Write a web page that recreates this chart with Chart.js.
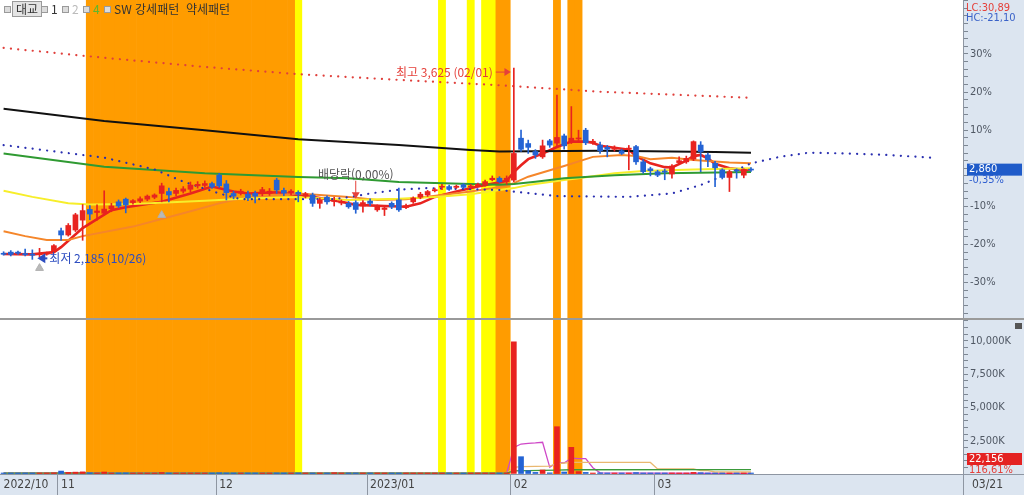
<!DOCTYPE html>
<html lang="ko">
<head>
<meta charset="utf-8">
<title>대교 일봉</title>
<script src="https://cdn.jsdelivr.net/npm/chart.js@4.4.1/dist/chart.umd.min.js"></script>
<style>
  html, body { margin: 0; padding: 0; background: #fff; }
  #wrap { position: relative; width: 1024px; height: 495px; overflow: hidden; }
  #price { position: absolute; left: 0; top: 0; }
  #vol { position: absolute; left: 0; top: 319px; }
  #legend { position: absolute; left: 0; top: 0; width: 300px; height: 18px; z-index: 2;
            font: 12px "Noto Sans CJK KR", "Noto Sans", sans-serif; color: #333; }
  #legend span { position: absolute; top: 2px; line-height: 14px; }
  #legend .sq { top: 6px; width: 5px; height: 5px; border: 1px solid #9a9a9a; background: #dcdcdc; }
  #legend .box { top: 1px; padding: 0 3px; border: 1px solid #9a9a9a; background: #e4e4e4; }
</style>
</head>
<body>
<div id="wrap">
  <canvas id="price" width="1024" height="319"></canvas>
  <canvas id="vol" width="1024" height="176"></canvas>
  <div id="legend">
    <span class="sq" style="left:4px"></span>
    <span class="box" style="left:12px">대교</span>
    <span class="sq" style="left:41px"></span>
    <span style="left:51px">1</span>
    <span class="sq" style="left:62px"></span>
    <span style="left:72px;color:#bbb">2</span>
    <span class="sq" style="left:83px"></span>
    <span style="left:93px;color:#5cb82e">4</span>
    <span class="sq" style="left:104px"></span>
    <span style="left:114px">SW 강세패턴</span>
    <span style="left:186px">약세패턴</span>
  </div>
</div>
<script>
// 거래일 (2022/10/20 ~ 2023/03/21)
const octDays = [20,21,24,25,26,27,28,31];
const novDays = [1,2,3,4,7,8,9,10,11,14,15,16,17,18,21,22,23,24,25,28,29,30];
const decDays = [1,2,5,6,7,8,9,12,13,14,15,16,19,20,21,22,23,26,27,28,29];
const janDays = [2,3,4,5,6,9,10,11,12,13,16,17,18,19,20,25,26,27,30,31];
const febDays = [1,2,3,6,7,8,9,10,13,14,15,16,17,20,21,22,23,24,27,28];
const marDays = [2,3,6,7,8,9,10,13,14,15,16,17,20,21];
const futureSlots = 29;
const monthNames = ['2022/10','11','12','2023/01','02','03'];

// 기준가 대비 등락률(%)
const opens = [-22.3,-22.0,-22.0,-22.4,-22.5,-22.6,-22.4,-21.8,-16.4,-17.5,
  -16.2,-13.6,-10.8,-11.6,-11.8,-10.6,-8.8,-8.1,-9.0,-8.6,
  -8.1,-7.6,-6.6,-6.1,-6.6,-6.0,-5.5,-4.6,-4.5,-4.0,
  -1.8,-4.1,-6.6,-6.5,-6.8,-6.6,-6.5,-6.6,-3.1,-5.8,
  -6.5,-6.3,-7.3,-7.0,-9.2,-7.6,-8.7,-9.1,-9.2,-9.0,
  -9.9,-8.6,-10.9,-10.8,-9.2,-8.3,-10.3,-8.8,-7.6,-7.0,
  -5.9,-4.9,-4.8,-5.0,-4.3,-4.8,-4.6,-4.4,-3.0,-2.6,
  -3.5,-3.1,7.9,6.5,4.4,3.0,7.2,6.6,8.5,7.0,
  7.7,10.0,6.7,6.1,5.5,5.0,4.6,5.0,5.7,1.7,
  0.0,-0.9,-0.7,-1.5,1.5,1.7,2.4,6.1,3.5,1.3,
  -0.4,-2.4,-0.4,-1.8,-0.2];
const highs = [-21.9,-21.6,-21.7,-21.2,-21.4,-21.0,-22.0,-20.0,-15.7,-14.5,
  -11.8,-9.5,-9.8,-9.6,-5.9,-9.2,-8.3,-7.8,-8.2,-7.5,
  -7.0,-6.7,-3.9,-5.2,-5.2,-4.8,-3.6,-3.5,-3.3,-3.6,
  -1.3,-3.2,-6.0,-5.5,-6.0,-6.0,-5.0,-5.3,-2.6,-5.2,
  -5.6,-5.9,-6.3,-6.5,-7.8,-7.2,-7.6,-8.3,-8.7,-8.5,
  -8.5,-8.0,-9.6,-9.9,-8.8,-5.2,-9.4,-7.5,-6.3,-5.8,
  -5.2,-4.2,-4.4,-4.4,-4.0,-4.2,-3.9,-3.1,-2.0,-2.2,
  -2.0,26.3,10.0,7.4,4.9,7.4,7.6,19.2,9.0,16.2,
  10.0,10.5,7.6,6.9,6.0,5.9,5.0,6.0,6.0,2.3,
  0.3,-0.5,-0.2,1.0,3.0,3.2,7.2,7.0,4.0,1.8,
  0.0,-0.5,0.0,0.0,0.2];
const lows = [-22.8,-23.0,-22.6,-23.0,-23.9,-23.2,-22.8,-22.0,-18.9,-17.8,
  -16.6,-18.9,-13.5,-13.6,-12.2,-11.4,-10.3,-11.7,-9.4,-9.0,
  -8.5,-8.0,-8.8,-8.8,-7.2,-6.5,-6.2,-5.2,-5.0,-5.3,
  -5.0,-8.3,-8.0,-7.0,-8.5,-9.1,-7.2,-7.1,-6.6,-7.2,
  -7.0,-8.8,-7.8,-10.0,-10.5,-9.4,-9.9,-9.6,-10.5,-11.8,
  -11.5,-9.8,-11.3,-12.4,-10.6,-11.3,-10.6,-9.2,-8.0,-7.4,
  -6.2,-5.6,-5.8,-5.3,-5.3,-5.2,-4.9,-4.7,-3.3,-3.8,
  -4.2,-3.5,4.4,3.9,2.6,2.6,5.5,5.7,5.0,6.5,
  7.2,6.2,6.3,3.9,3.0,4.5,3.6,-0.4,1.0,-1.3,
  -2.0,-2.2,-3.0,-2.6,1.0,1.3,2.0,-0.9,0.4,-4.8,
  -2.8,-6.1,-2.6,-2.5,-0.8];
const closes = [-22.5,-22.6,-22.3,-22.5,-22.8,-22.4,-22.3,-20.3,-17.5,-15.0,
  -12.2,-11.1,-12.0,-11.2,-10.7,-9.9,-9.9,-9.6,-8.5,-8.0,
  -7.3,-7.0,-4.6,-7.0,-5.8,-5.4,-4.4,-4.2,-4.0,-4.9,
  -4.6,-6.4,-7.3,-6.0,-7.8,-7.3,-5.6,-6.0,-5.7,-6.5,
  -6.0,-6.8,-6.7,-9.2,-8.3,-8.8,-8.4,-8.7,-10.1,-10.8,
  -9.0,-9.2,-10.1,-10.4,-10.1,-10.9,-9.8,-7.8,-6.8,-6.1,
  -5.6,-4.7,-5.5,-4.7,-5.0,-4.6,-4.2,-3.5,-2.6,-3.5,
  -2.6,3.9,5.0,5.5,3.5,5.9,6.1,8.1,5.9,7.9,
  7.9,6.7,7.1,4.6,5.0,5.3,3.9,5.3,1.7,-0.9,
  -0.6,-1.8,-1.0,0.6,2.0,2.6,7.0,4.4,2.2,0.0,
  -2.4,-0.9,-0.6,-0.3,-0.35];

// 거래량 (천주)
const volumes = [60,45,40,55,70,50,40,90,
  220,120,140,160,90,80,150,70,60,80,50,45,
  40,45,110,60,40,45,70,40,35,50,
  90,70,50,40,45,40,50,45,80,40,
  35,40,45,60,40,35,100,30,35,60,
  45,40,35,30,40,70,35,45,50,40,
  35,30,30,25,30,25,30,40,45,50,
  80,9930,1300,250,120,300,90,3550,150,2000,
  180,120,60,90,50,40,40,60,110,70,
  50,40,40,80,40,50,120,100,60,50,
  50,60,30,19,22];

// 이동평균선 / 채널 ([인덱스, 값])
const ma5Pts = [[0,-22.5],[4,-22.6],[7,-22.0],[8,-20.7],[11,-15.7],[15,-11.0],[17,-10.2],[22,-8.8],[26,-6.6],[29,-4.8],
  [32,-6.1],[34,-6.6],[38,-6.3],[43,-7.5],[47,-8.8],[49,-9.6],[53,-9.9],[56,-10.1],[58,-9.2],[60,-7.5],[63,-6.1],
  [66,-4.8],[69,-3.7],[70,-3.3],[71,-1.0],[72,0.8],[73,2.4],[75,3.9],[77,5.6],[79,7.0],[81,7.0],[82,6.7],[83,5.9],
  [85,5.4],[87,4.9],[88,3.2],[90,1.3],[92,0.3],[93,0.2],[95,2.0],[96,3.2],[97,3.5],[98,2.6],[99,1.2],[101,0.0],
  [103,-0.4],[104,-0.3]];
const ma20Pts = [[0,-16.5],[3,-17.8],[6,-18.8],[9,-18.8],[11,-17.8],[18,-15.3],[25,-11.8],[30,-9.2],[34,-7.5],[41,-6.6],
  [48,-7.5],[52,-8.3],[56,-8.1],[61,-7.0],[65,-6.1],[68,-5.2],[70,-4.5],[71,-3.9],[73,-2.2],[78,0.6],[82,3.0],[86,3.5],
  [88,3.2],[90,2.4],[93,2.8],[96,2.2],[101,1.5],[104,1.3]];
const ma60Pts = [[0,-5.9],[4,-7.5],[9,-9.2],[12,-9.5],[18,-9.4],[28,-8.5],[34,-7.9],[41,-7.5],[48,-8.3],[55,-8.0],
  [60,-7.5],[65,-6.8],[69,-5.7],[71,-5.2],[73,-4.4],[78,-3.1],[80,-2.6],[85,-1.3],[89,-0.7],[96,-0.3],[104,0.0]];
const ma120Pts = [[0,3.9],[14,0.4],[28,-1.3],[41,-2.3],[48,-2.6],[55,-3.6],[65,-4.1],[69,-4.3],[71,-4.1],[74,-3.5],
  [78,-2.6],[85,-1.8],[92,-1.3],[104,-1.0]];
const ma240Pts = [[0,15.6],[14,12.4],[28,10.0],[41,7.6],[55,6.1],[65,4.8],[69,4.4],[83,4.6],[90,4.5],[99,4.3],[104,4.1]];
const upperPts = [[0,31.6],[14,29.0],[28,26.6],[41,24.7],[55,23.2],[68,21.9],[83,20.1],[104,18.5]];
const lowerPts = [[0,6.1],[14,2.8],[21,-0.3],[25,-3.5],[30,-6.6],[33,-8.1],[46,-8.1],[49,-7.3],[51,-6.6],[55,-5.6],
  [59,-5.2],[65,-5.5],[69,-5.7],[71,-6.1],[77,-7.3],[87,-7.5],[93,-6.6],[97,-4.4],[101,-1.3],[104,1.3],
  [108,3.0],[112,4.1],[117,3.9],[123,3.5],[129,2.8]];
const signalPts = [[5,-26.2],[22,-12.3]];

const volMa5Pts = [[0,90],[10,110],[20,90],[35,70],[50,80],[60,60],[70,50],[71,2000],[72,2250],[73,2300],[74,2330],
  [75,2380],[76,500],[77,860],[78,830],[79,1190],[80,1160],[81,1150],[82,470],[83,90],[90,60],[104,40]];
const volMa20Pts = [[0,70],[70,60],[71,500],[72,560],[76,590],[77,770],[79,870],[90,870],[91,380],[96,380],
  [97,250],[98,250],[99,150],[104,150]];
const volMa60Pts = [[0,60],[70,60],[71,230],[77,290],[79,320],[104,330]];

// SW 강세패턴 구간 [시작, 끝]
const orangeBands = [[12,40],[69,70],[77,77],[79,80]];
const yellowBands = [[41,41],[61,61],[65,65],[67,68]];

const pctLabels = [-30,-20,-10,10,20,30];
const volLabels = [2500,5000,7500,10000];

const hiIndex = 71, loIndex = 4, divIndex = 49;

// ---- 테이블 구성 ----
const months = [[2022,10,octDays],[2022,11,novDays],[2022,12,decDays],[2023,1,janDays],[2023,2,febDays],[2023,3,marDays]];
const labels = [];
const monthStarts = [];
months.forEach(([yy, mm, days]) => {
  monthStarts.push(labels.length);
  days.forEach(d => labels.push(`${yy}/${String(mm).padStart(2,'0')}/${String(d).padStart(2,'0')}`));
});
for (let i = 0; i < futureSlots; i++) labels.push('');
const N = labels.length;

function fromPts(pts) {
  const arr = new Array(N).fill(null);
  pts.forEach(([i, v]) => { arr[i] = v; });
  return arr;
}
function fromBands(bands) {
  const arr = new Array(N).fill(null);
  bands.forEach(([a, b]) => { for (let i = a; i <= b; i++) arr[i] = 1; });
  return arr;
}

const UP = '#e8231f', DOWN = '#2463d4';
const candleColors = closes.map((c, i) => c >= opens[i] ? UP : DOWN);
const narrow = '"Liberation Sans Narrow", "Arial Narrow", "DejaVu Sans Condensed", Arial, sans-serif';
const kr = '"Noto Sans CJK KR", "Noto Sans", sans-serif';
const panelBg = '#dce5f0';
const lineGray = '#8e96a2';

function bandSets() {
  return [
    { type: 'bar', data: fromBands(orangeBands), yAxisID: 'band', backgroundColor: '#ff9c00',
      barPercentage: 1, categoryPercentage: 1, grouped: false, order: 30 },
    { type: 'bar', data: fromBands(yellowBands), yAxisID: 'band', backgroundColor: '#ffff00',
      barPercentage: 1, categoryPercentage: 1, grouped: false, order: 30 }
  ];
}
function lineSet(pts, color, width, axis, dash) {
  return { type: 'line', data: fromPts(pts), yAxisID: axis, borderColor: color, borderWidth: width,
    pointRadius: 0, spanGaps: true, tension: 0, order: 10,
    borderDash: dash || [], borderCapStyle: dash ? 'round' : 'butt' };
}

function rightAxis(min, max, tickValues, labelFn) {
  return {
    position: 'right', min, max,
    afterBuildTicks(s) { s.ticks = tickValues.map(v => ({ value: v })); },
    afterFit(s) { s.width = 61; s.paddingTop = 0; s.paddingBottom = 0; },
    ticks: { callback: labelFn, color: '#505864', font: { family: narrow, size: 11 }, padding: 2, autoSkip: false },
    grid: { drawOnChartArea: false, tickLength: 5, color: '#7d8793' },
    border: { color: lineGray }
  };
}

const pctTicks = [];
for (let v = -38; v <= 44; v += 2) pctTicks.push(v);
const volTicks = [];
for (let v = 0; v <= 11500; v += 500) volTicks.push(v);

// ---- 가격 차트 ----
const pricePanel = {
  id: 'pricePanel',
  beforeDraw(chart) {
    const { ctx, chartArea: a, width, height } = chart;
    ctx.save();
    ctx.fillStyle = '#fff';
    ctx.fillRect(0, 0, width, height);
    ctx.fillStyle = panelBg;
    ctx.fillRect(a.right, 0, width - a.right, height);
    ctx.restore();
  },
  afterDatasetsDraw(chart) {
    const { ctx, scales: { x, y } } = chart;
    ctx.save();
    ctx.font = '12px ' + kr;
    ctx.textBaseline = 'middle';

    // 최고
    let px = x.getPixelForValue(hiIndex), py = y.getPixelForValue(highs[hiIndex]) + 4;
    ctx.fillStyle = ctx.strokeStyle = '#e5403a';
    ctx.textAlign = 'right';
    ctx.fillText('최고 3,625 (02/01)', px - 21, py);
    arrow(ctx, px - 18, py, px - 3, py, 4);

    // 최저
    px = x.getPixelForValue(loIndex); py = y.getPixelForValue(lows[loIndex]);
    ctx.fillStyle = ctx.strokeStyle = '#2c4cc0';
    ctx.textAlign = 'left';
    ctx.fillText('최저 2,185 (10/26)', px + 17, py - 1);
    ctx.lineWidth = 2;
    arrow(ctx, px + 15, py - 1, px + 5, py - 1, 5);

    // 배당락
    px = x.getPixelForValue(divIndex); py = y.getPixelForValue(highs[divIndex]);
    ctx.fillStyle = '#555';
    ctx.textAlign = 'center';
    ctx.fillText('배당락(0,00%)', px, py - 26);
    ctx.fillStyle = ctx.strokeStyle = '#e5403a';
    ctx.lineWidth = 1;
    arrow(ctx, px, py - 20, px, py - 2, 4);
    ctx.restore();
  },
  afterDraw(chart) {
    const { ctx, chartArea: a, width, scales: { y } } = chart;
    ctx.save();
    ctx.font = '11px ' + narrow;
    ctx.textAlign = 'left';
    ctx.textBaseline = 'middle';
    ctx.fillStyle = '#e5403a';
    ctx.fillText('LC:30,89', a.right + 3, 8);
    ctx.fillStyle = '#3a62c8';
    ctx.fillText('HC:-21,10', a.right + 3, 18);
    const ty = y.getPixelForValue(closes[closes.length - 1]);
    ctx.fillStyle = '#1f5bc9';
    ctx.fillRect(a.right + 4, ty - 6, 55, 12);
    ctx.fillStyle = '#fff';
    ctx.fillText('2,860', a.right + 6, ty);
    ctx.fillStyle = '#2f5fd0';
    ctx.fillText('-0,35%', a.right + 6, ty + 11);
    ctx.strokeStyle = '#9a9a9a';
    ctx.lineWidth = 1;
    ctx.beginPath();
    ctx.moveTo(0, a.bottom - 0.5); ctx.lineTo(width, a.bottom - 0.5);
    ctx.stroke();
    ctx.restore();
  }
};

function arrow(ctx, x1, y1, x2, y2, head) {
  const ang = Math.atan2(y2 - y1, x2 - x1);
  ctx.beginPath();
  ctx.moveTo(x1, y1);
  ctx.lineTo(x2 - Math.cos(ang) * head, y2 - Math.sin(ang) * head);
  ctx.stroke();
  ctx.beginPath();
  ctx.moveTo(x2, y2);
  ctx.lineTo(x2 - Math.cos(ang) * head * 1.6 - Math.sin(ang) * head, y2 - Math.sin(ang) * head * 1.6 + Math.cos(ang) * head);
  ctx.lineTo(x2 - Math.cos(ang) * head * 1.6 + Math.sin(ang) * head, y2 - Math.sin(ang) * head * 1.6 - Math.cos(ang) * head);
  ctx.closePath();
  ctx.fill();
}

new Chart(document.getElementById('price'), {
  type: 'bar',
  data: {
    labels,
    datasets: [
      ...bandSets(),
      lineSet(upperPts, '#e0403c', 2.2, 'y', [0.1, 7.2]),
      lineSet(lowerPts, '#2a2fb0', 2.2, 'y', [0.1, 7.2]),
      lineSet(ma240Pts, '#111111', 2, 'y'),
      lineSet(ma120Pts, '#2f9a32', 2, 'y'),
      lineSet(ma60Pts, '#f7ee2a', 2, 'y'),
      lineSet(ma20Pts, '#f5862a', 2, 'y'),
      lineSet(ma5Pts, '#e8231f', 2.6, 'y'),
      { type: 'bar', data: lows.map((l, i) => [l, highs[i]]), yAxisID: 'y', backgroundColor: candleColors,
        barThickness: 1, grouped: false, order: 3 },
      { type: 'bar', data: opens.map((o, i) => [o, closes[i]]), yAxisID: 'y', backgroundColor: candleColors,
        barThickness: 5, minBarLength: 1, grouped: false, order: 2 },
      { type: 'line', data: fromPts(signalPts), yAxisID: 'y', showLine: false, pointStyle: 'triangle',
        pointRadius: 4.5, pointBackgroundColor: '#b9b9b9', pointBorderColor: '#b0b0b0', order: 1 }
    ]
  },
  options: {
    responsive: false, animation: false,
    layout: { padding: 0, autoPadding: false },
    plugins: { legend: { display: false }, tooltip: { enabled: false } },
    scales: {
      x: { display: false, offset: true },
      y: rightAxis(-39.55, 44.17, pctTicks, v => pctLabels.includes(v) ? v + '%' : ''),
      band: { display: false, min: 0, max: 1 }
    }
  },
  plugins: [pricePanel]
});

// ---- 거래량 차트 ----
const volPanel = {
  id: 'volPanel',
  beforeDraw(chart) {
    const { ctx, chartArea: a, width, height } = chart;
    ctx.save();
    ctx.fillStyle = '#fff';
    ctx.fillRect(0, 0, width, height);
    ctx.fillStyle = panelBg;
    ctx.fillRect(a.right, 0, width - a.right, height);
    ctx.fillRect(0, a.bottom, width, height - a.bottom);
    ctx.restore();
  },
  afterDraw(chart) {
    const { ctx, chartArea: a, width, height, scales: { x } } = chart;
    const slot = x.getPixelForValue(1) - x.getPixelForValue(0);
    ctx.save();
    ctx.strokeStyle = lineGray;
    ctx.lineWidth = 1;
    ctx.beginPath();
    ctx.moveTo(0, a.bottom + 0.5); ctx.lineTo(width, a.bottom + 0.5);
    ctx.moveTo(a.right + 0.5, a.bottom); ctx.lineTo(a.right + 0.5, height);
    monthStarts.slice(1).forEach(i => {
      const mx = Math.round(x.getPixelForValue(i) - slot / 2) + 0.5;
      ctx.moveTo(mx, a.bottom); ctx.lineTo(mx, height);
    });
    ctx.stroke();
    ctx.strokeStyle = '#9a9a9a';
    ctx.beginPath();
    ctx.moveTo(0, 0.5); ctx.lineTo(width, 0.5);
    ctx.stroke();

    ctx.font = '11px ' + narrow;
    ctx.textAlign = 'left';
    ctx.textBaseline = 'middle';
    ctx.fillStyle = '#e42222';
    ctx.fillRect(a.right + 4, 134, 55, 12);
    ctx.fillStyle = '#fff';
    ctx.fillText('22,156', a.right + 6, 140);
    ctx.fillStyle = '#e5403a';
    ctx.fillText('116,61%', a.right + 6, 151);
    ctx.fillStyle = '#555';
    ctx.fillRect(width - 9, 4, 7, 6);
    ctx.font = '12px ' + narrow;
    ctx.fillStyle = '#444';
    ctx.fillText('03/21', a.right + 9, 166);
    ctx.restore();
  }
};

new Chart(document.getElementById('vol'), {
  type: 'bar',
  data: {
    labels,
    datasets: [
      ...bandSets(),
      { type: 'bar', data: volumes, yAxisID: 'yv', backgroundColor: candleColors,
        barThickness: 5, minBarLength: 1, grouped: false, order: 5 },
      lineSet(volMa60Pts, '#3a9a3a', 1.3, 'yv'),
      lineSet(volMa20Pts, '#e9b870', 1.3, 'yv'),
      lineSet(volMa5Pts, '#cf48c8', 1.3, 'yv')
    ]
  },
  options: {
    responsive: false, animation: false,
    layout: { padding: { top: 1 }, autoPadding: false },
    plugins: { legend: { display: false }, tooltip: { enabled: false } },
    scales: {
      x: {
        offset: true,
        grid: { display: false, drawTicks: false },
        border: { display: false },
        afterFit(s) { s.height = 21; s.paddingLeft = 0; s.paddingRight = 0; },
        ticks: {
          autoSkip: false, maxRotation: 0, minRotation: 0, align: 'start', padding: 4,
          color: '#444', font: { family: narrow, size: 12 },
          callback: (v, i) => monthStarts.includes(i) ? monthNames[monthStarts.indexOf(i)] : ''
        }
      },
      yv: rightAxis(0, 11560, volTicks, v => volLabels.includes(v) ? v.toLocaleString('en-US') + 'K' : ''),
      band: { display: false, min: 0, max: 1 }
    }
  },
  plugins: [volPanel]
});
</script>
</body>
</html>
